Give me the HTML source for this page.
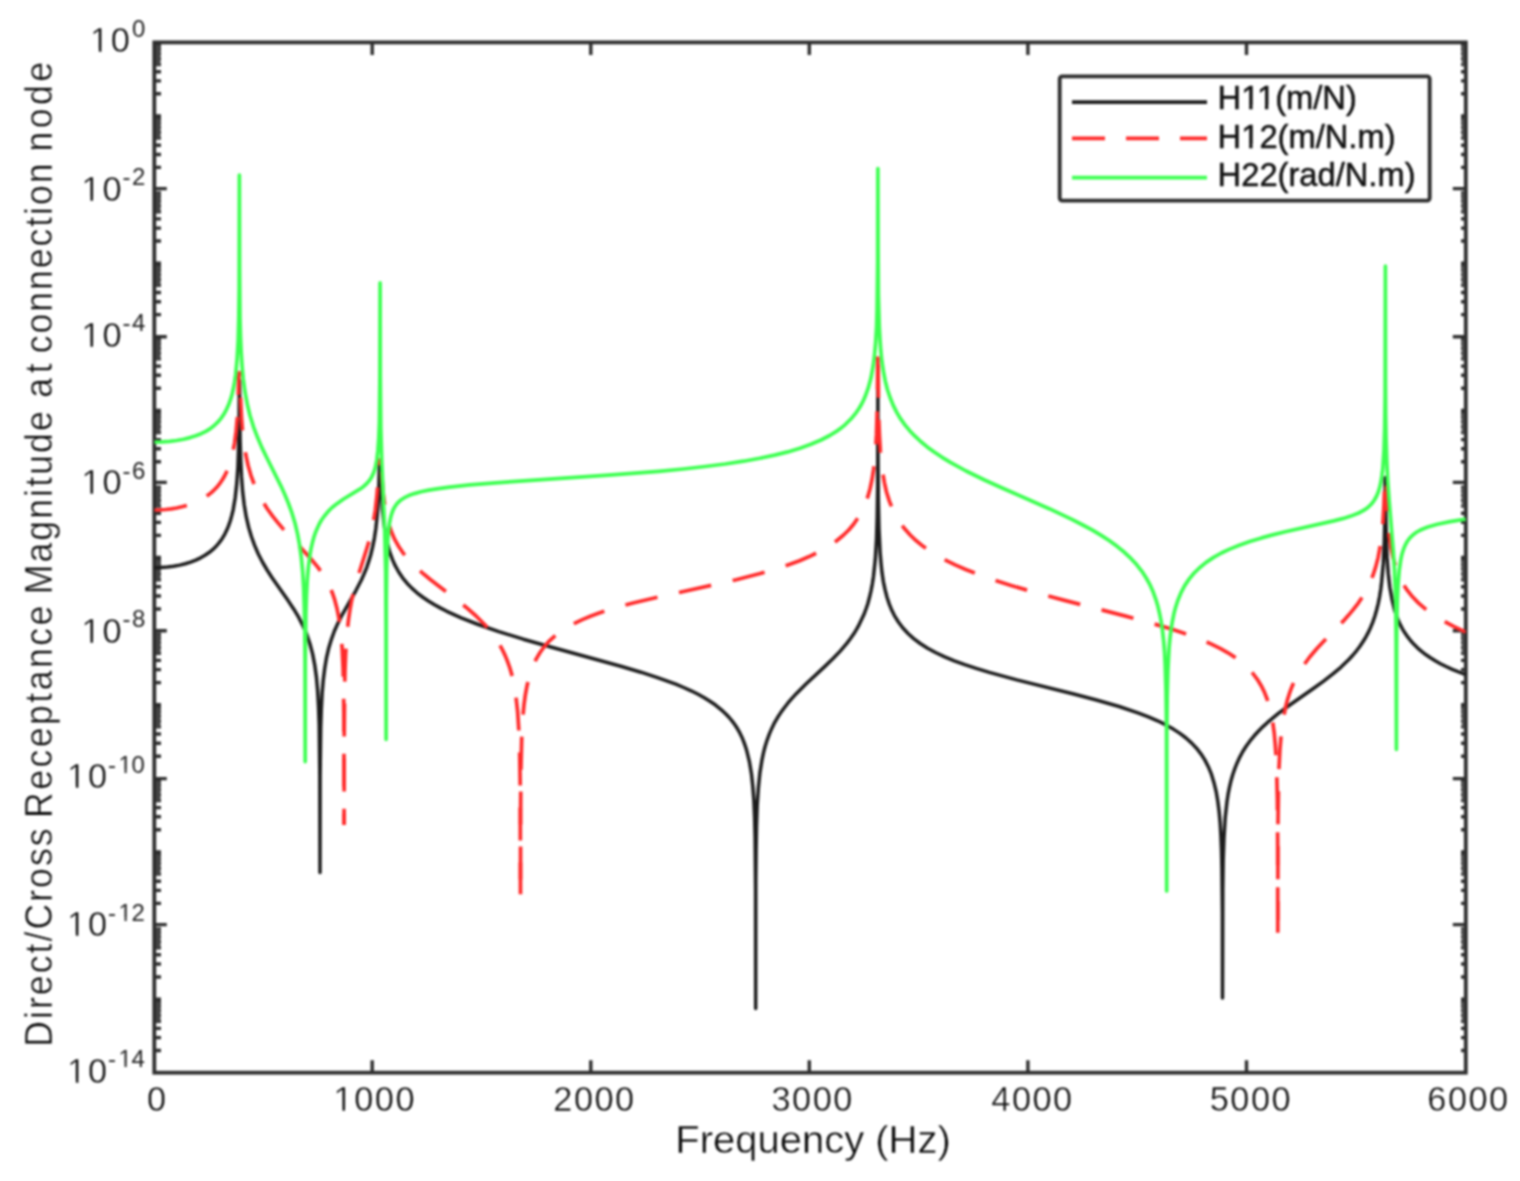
<!DOCTYPE html>
<html lang="en"><head><meta charset="utf-8"><title>Direct/Cross Receptance Magnitude at connection node</title>
<style>html,body{margin:0;padding:0;background:#fff}body{width:1520px;height:1181px;overflow:hidden}svg{display:block;filter:blur(1.0px)}text{font-family:"Liberation Sans",Arial,Helvetica,sans-serif;fill:#0a0a0a;stroke:#fff;stroke-width:.4px;paint-order:fill stroke}</style></head><body>
<svg width="1520" height="1181" viewBox="0 0 1520 1181">
<rect width="1520" height="1181" fill="#fff"/>
<defs><clipPath id="c"><rect x="154.3" y="42.4" width="1311.5" height="1030.3"/></clipPath></defs>
<path d="M372.2 1072.7 v-12.5 M372.2 42.4 v12.5 M590.8 1072.7 v-12.5 M590.8 42.4 v12.5 M809.3 1072.7 v-12.5 M809.3 42.4 v12.5 M1027.9 1072.7 v-12.5 M1027.9 42.4 v12.5 M1246.5 1072.7 v-12.5 M1246.5 42.4 v12.5 M154.3 93.8 h6.7 M1465.8 93.8 h-4.8 M154.3 80.9 h6.7 M1465.8 80.9 h-4.8 M154.3 71.7 h6.7 M1465.8 71.7 h-4.8 M154.3 64.6 h6.7 M1465.8 64.6 h-4.8 M154.3 58.7 h6.7 M1465.8 58.7 h-4.8 M154.3 53.8 h6.7 M1465.8 53.8 h-4.8 M154.3 49.5 h6.7 M1465.8 49.5 h-4.8 M154.3 45.8 h6.7 M1465.8 45.8 h-4.8 M154.3 116.0 h6.7 M1465.8 116.0 h-4.8 M154.3 167.4 h6.7 M1465.8 167.4 h-4.8 M154.3 154.5 h6.7 M1465.8 154.5 h-4.8 M154.3 145.3 h6.7 M1465.8 145.3 h-4.8 M154.3 138.1 h6.7 M1465.8 138.1 h-4.8 M154.3 132.3 h6.7 M1465.8 132.3 h-4.8 M154.3 127.4 h6.7 M1465.8 127.4 h-4.8 M154.3 123.1 h6.7 M1465.8 123.1 h-4.8 M154.3 119.4 h6.7 M1465.8 119.4 h-4.8 M154.3 188.6 h12.5 M1465.8 188.6 h-13.0 M154.3 241.0 h6.7 M1465.8 241.0 h-4.8 M154.3 228.1 h6.7 M1465.8 228.1 h-4.8 M154.3 218.9 h6.7 M1465.8 218.9 h-4.8 M154.3 211.7 h6.7 M1465.8 211.7 h-4.8 M154.3 205.9 h6.7 M1465.8 205.9 h-4.8 M154.3 201.0 h6.7 M1465.8 201.0 h-4.8 M154.3 196.7 h6.7 M1465.8 196.7 h-4.8 M154.3 193.0 h6.7 M1465.8 193.0 h-4.8 M154.3 263.2 h6.7 M1465.8 263.2 h-4.8 M154.3 314.6 h6.7 M1465.8 314.6 h-4.8 M154.3 301.7 h6.7 M1465.8 301.7 h-4.8 M154.3 292.5 h6.7 M1465.8 292.5 h-4.8 M154.3 285.3 h6.7 M1465.8 285.3 h-4.8 M154.3 279.5 h6.7 M1465.8 279.5 h-4.8 M154.3 274.6 h6.7 M1465.8 274.6 h-4.8 M154.3 270.3 h6.7 M1465.8 270.3 h-4.8 M154.3 266.5 h6.7 M1465.8 266.5 h-4.8 M154.3 336.7 h12.5 M1465.8 336.7 h-13.0 M154.3 388.2 h6.7 M1465.8 388.2 h-4.8 M154.3 375.3 h6.7 M1465.8 375.3 h-4.8 M154.3 366.1 h6.7 M1465.8 366.1 h-4.8 M154.3 358.9 h6.7 M1465.8 358.9 h-4.8 M154.3 353.1 h6.7 M1465.8 353.1 h-4.8 M154.3 348.2 h6.7 M1465.8 348.2 h-4.8 M154.3 343.9 h6.7 M1465.8 343.9 h-4.8 M154.3 340.1 h6.7 M1465.8 340.1 h-4.8 M154.3 410.4 h6.7 M1465.8 410.4 h-4.8 M154.3 461.8 h6.7 M1465.8 461.8 h-4.8 M154.3 448.8 h6.7 M1465.8 448.8 h-4.8 M154.3 439.6 h6.7 M1465.8 439.6 h-4.8 M154.3 432.5 h6.7 M1465.8 432.5 h-4.8 M154.3 426.7 h6.7 M1465.8 426.7 h-4.8 M154.3 421.8 h6.7 M1465.8 421.8 h-4.8 M154.3 417.5 h6.7 M1465.8 417.5 h-4.8 M154.3 413.7 h6.7 M1465.8 413.7 h-4.8 M154.3 482.4 h12.5 M1465.8 482.4 h-13.0 M154.3 535.4 h6.7 M1465.8 535.4 h-4.8 M154.3 522.4 h6.7 M1465.8 522.4 h-4.8 M154.3 513.2 h6.7 M1465.8 513.2 h-4.8 M154.3 506.1 h6.7 M1465.8 506.1 h-4.8 M154.3 500.3 h6.7 M1465.8 500.3 h-4.8 M154.3 495.4 h6.7 M1465.8 495.4 h-4.8 M154.3 491.1 h6.7 M1465.8 491.1 h-4.8 M154.3 487.3 h6.7 M1465.8 487.3 h-4.8 M154.3 557.5 h6.7 M1465.8 557.5 h-4.8 M154.3 609.0 h6.7 M1465.8 609.0 h-4.8 M154.3 596.0 h6.7 M1465.8 596.0 h-4.8 M154.3 586.8 h6.7 M1465.8 586.8 h-4.8 M154.3 579.7 h6.7 M1465.8 579.7 h-4.8 M154.3 573.9 h6.7 M1465.8 573.9 h-4.8 M154.3 568.9 h6.7 M1465.8 568.9 h-4.8 M154.3 564.7 h6.7 M1465.8 564.7 h-4.8 M154.3 560.9 h6.7 M1465.8 560.9 h-4.8 M154.3 630.7 h12.5 M1465.8 630.7 h-13.0 M154.3 682.6 h6.7 M1465.8 682.6 h-4.8 M154.3 669.6 h6.7 M1465.8 669.6 h-4.8 M154.3 660.4 h6.7 M1465.8 660.4 h-4.8 M154.3 653.3 h6.7 M1465.8 653.3 h-4.8 M154.3 647.5 h6.7 M1465.8 647.5 h-4.8 M154.3 642.5 h6.7 M1465.8 642.5 h-4.8 M154.3 638.3 h6.7 M1465.8 638.3 h-4.8 M154.3 634.5 h6.7 M1465.8 634.5 h-4.8 M154.3 704.7 h6.7 M1465.8 704.7 h-4.8 M154.3 756.2 h6.7 M1465.8 756.2 h-4.8 M154.3 743.2 h6.7 M1465.8 743.2 h-4.8 M154.3 734.0 h6.7 M1465.8 734.0 h-4.8 M154.3 726.9 h6.7 M1465.8 726.9 h-4.8 M154.3 721.1 h6.7 M1465.8 721.1 h-4.8 M154.3 716.1 h6.7 M1465.8 716.1 h-4.8 M154.3 711.9 h6.7 M1465.8 711.9 h-4.8 M154.3 708.1 h6.7 M1465.8 708.1 h-4.8 M154.3 778.6 h12.5 M1465.8 778.6 h-13.0 M154.3 829.8 h6.7 M1465.8 829.8 h-4.8 M154.3 816.8 h6.7 M1465.8 816.8 h-4.8 M154.3 807.6 h6.7 M1465.8 807.6 h-4.8 M154.3 800.5 h6.7 M1465.8 800.5 h-4.8 M154.3 794.7 h6.7 M1465.8 794.7 h-4.8 M154.3 789.7 h6.7 M1465.8 789.7 h-4.8 M154.3 785.5 h6.7 M1465.8 785.5 h-4.8 M154.3 781.7 h6.7 M1465.8 781.7 h-4.8 M154.3 851.9 h6.7 M1465.8 851.9 h-4.8 M154.3 903.4 h6.7 M1465.8 903.4 h-4.8 M154.3 890.4 h6.7 M1465.8 890.4 h-4.8 M154.3 881.2 h6.7 M1465.8 881.2 h-4.8 M154.3 874.1 h6.7 M1465.8 874.1 h-4.8 M154.3 868.2 h6.7 M1465.8 868.2 h-4.8 M154.3 863.3 h6.7 M1465.8 863.3 h-4.8 M154.3 859.1 h6.7 M1465.8 859.1 h-4.8 M154.3 855.3 h6.7 M1465.8 855.3 h-4.8 M154.3 924.6 h12.5 M1465.8 924.6 h-13.0 M154.3 977.0 h6.7 M1465.8 977.0 h-4.8 M154.3 964.0 h6.7 M1465.8 964.0 h-4.8 M154.3 954.8 h6.7 M1465.8 954.8 h-4.8 M154.3 947.7 h6.7 M1465.8 947.7 h-4.8 M154.3 941.8 h6.7 M1465.8 941.8 h-4.8 M154.3 936.9 h6.7 M1465.8 936.9 h-4.8 M154.3 932.6 h6.7 M1465.8 932.6 h-4.8 M154.3 928.9 h6.7 M1465.8 928.9 h-4.8 M154.3 999.1 h6.7 M1465.8 999.1 h-4.8 M154.3 1050.5 h6.7 M1465.8 1050.5 h-4.8 M154.3 1037.6 h6.7 M1465.8 1037.6 h-4.8 M154.3 1028.4 h6.7 M1465.8 1028.4 h-4.8 M154.3 1021.3 h6.7 M1465.8 1021.3 h-4.8 M154.3 1015.4 h6.7 M1465.8 1015.4 h-4.8 M154.3 1010.5 h6.7 M1465.8 1010.5 h-4.8 M154.3 1006.2 h6.7 M1465.8 1006.2 h-4.8 M154.3 1002.5 h6.7 M1465.8 1002.5 h-4.8" stroke="#2e2e2e" stroke-width="3.4" fill="none"/>
<path d="M154.3 45.0h6.2v20.4h-6.2z M154.3 118.6h6.2v20.4h-6.2z M154.3 192.2h6.2v20.4h-6.2z M154.3 265.8h6.2v20.4h-6.2z M154.3 339.4h6.2v20.4h-6.2z M154.3 413.0h6.2v20.4h-6.2z M154.3 486.6h6.2v20.4h-6.2z M154.3 560.1h6.2v20.4h-6.2z M154.3 633.7h6.2v20.4h-6.2z M154.3 707.3h6.2v20.4h-6.2z M154.3 780.9h6.2v20.4h-6.2z M154.3 854.5h6.2v20.4h-6.2z M154.3 928.1h6.2v20.4h-6.2z M154.3 1001.7h6.2v20.4h-6.2z" fill="#454545"/>
<path d="M1465.8 45.0h-4.0v20.4h4.0z M1465.8 118.6h-4.0v20.4h4.0z M1465.8 192.2h-4.0v20.4h4.0z M1465.8 265.8h-4.0v20.4h4.0z M1465.8 339.4h-4.0v20.4h4.0z M1465.8 413.0h-4.0v20.4h4.0z M1465.8 486.6h-4.0v20.4h4.0z M1465.8 560.1h-4.0v20.4h4.0z M1465.8 633.7h-4.0v20.4h4.0z M1465.8 707.3h-4.0v20.4h4.0z M1465.8 780.9h-4.0v20.4h4.0z M1465.8 854.5h-4.0v20.4h4.0z M1465.8 928.1h-4.0v20.4h4.0z M1465.8 1001.7h-4.0v20.4h4.0z" fill="#5a5a5a"/>
<rect x="154.3" y="42.4" width="1311.5" height="1030.3" fill="none" stroke="#2e2e2e" stroke-width="3.8"/>
<g clip-path="url(#c)" fill="none" stroke-linejoin="round" stroke-width="3.7">
<path stroke="#1c1c1c" stroke-width="3.5" d="M154.3 567.7 L160.9 567.6 L167.4 567.1 L173.5 566.3 L179.7 565.1 L185.3 563.7 L190.6 562.1 L195.8 560.1 L200.6 557.8 L205.0 555.3 L209.4 552.3 L212.9 549.4 L216.4 546.0 L219.4 542.4 L222.1 538.7 L224.7 534.3 L226.9 529.8 L228.6 525.6 L230.4 520.5 L231.8 515.4 L233.1 510.1 L235.2 497.7 L236.8 483.0 L237.9 467.0 L238.6 447.6 L239.1 420.2 L239.3 380.7 L239.5 380.7 L240.1 439.4 L240.7 459.6 L241.5 476.4 L242.6 491.3 L244.2 504.7 L246.2 516.7 L248.7 527.5 L251.4 536.5 L254.4 544.9 L258.3 554.0 L262.7 562.5 L267.1 570.0 L271.9 577.5 L288.1 600.6 L293.8 609.2 L298.6 617.2 L302.9 625.6 L306.9 634.8 L309.9 643.7 L312.6 653.9 L314.7 664.8 L316.4 676.9 L317.6 690.4 L318.5 706.1 L319.2 724.8 L319.8 774.3 L320.0 872.5 L320.1 776.1 L320.7 728.0 L321.3 709.6 L322.1 693.8 L323.2 680.5 L324.7 668.5 L326.4 658.2 L328.6 648.6 L331.4 639.3 L334.4 631.0 L337.5 624.1 L341.4 616.2 L355.8 590.8 L361.5 579.8 L364.1 573.9 L366.8 567.3 L368.9 560.9 L370.7 555.0 L372.7 546.7 L374.4 538.1 L375.8 528.8 L376.9 518.6 L377.9 507.4 L378.6 494.8 L379.5 463.7 L380.7 463.7 L381.1 481.9 L381.8 497.1 L382.6 510.2 L383.8 521.9 L384.9 530.6 L386.3 538.5 L388.0 545.8 L389.9 552.7 L392.6 559.9 L395.2 565.7 L398.7 572.0 L402.6 577.8 L407.0 583.2 L411.8 588.1 L417.0 592.8 L423.2 597.5 L428.4 601.0 L434.1 604.5 L440.2 607.9 L446.8 611.3 L461.2 617.8 L478.2 624.5 L498.8 631.6 L523.3 639.2 L549.9 646.8 L620.8 666.2 L640.9 672.2 L657.5 677.6 L675.8 684.2 L683.7 687.5 L691.1 690.8 L698.1 694.3 L704.3 697.7 L709.9 701.2 L715.2 704.8 L722.6 710.9 L726.1 714.2 L729.2 717.5 L732.2 721.1 L734.9 724.7 L737.5 728.8 L739.7 732.7 L741.9 737.2 L743.6 741.3 L745.3 746.1 L746.9 751.3 L749.5 762.2 L751.5 774.3 L752.8 786.5 L753.9 800.7 L754.6 817.3 L755.1 837.6 L755.6 891.2 L755.7 1008.5 L755.8 882.2 L756.1 850.2 L756.5 826.2 L757.2 805.2 L758.4 787.6 L759.9 772.9 L762.0 759.8 L763.4 753.1 L765.0 746.8 L767.2 739.8 L769.4 733.9 L772.0 727.9 L774.6 722.6 L777.7 717.3 L780.8 712.6 L784.3 707.7 L787.8 703.2 L791.7 698.6 L796.5 693.4 L805.7 684.3 L824.9 666.4 L832.8 658.8 L840.2 651.1 L846.8 643.4 L850.3 638.8 L853.8 633.8 L856.8 628.9 L859.4 624.1 L863.8 614.8 L866.0 609.0 L867.8 603.7 L869.5 597.3 L871.0 590.8 L872.4 583.6 L873.5 576.2 L875.3 559.3 L876.5 539.3 L877.2 516.5 L877.7 486.6 L877.9 373.7 L878.0 455.3 L878.3 497.9 L879.0 528.8 L880.1 552.3 L881.0 563.0 L882.0 572.6 L883.3 581.3 L885.0 589.4 L887.0 597.3 L889.2 603.9 L891.8 610.3 L894.4 615.6 L898.4 622.0 L902.7 627.8 L908.0 633.5 L913.7 638.6 L920.2 643.5 L927.6 648.2 L935.5 652.5 L944.7 656.8 L954.3 660.8 L964.8 664.6 L976.2 668.4 L989.3 672.4 L1016.8 679.9 L1073.7 694.0 L1096.4 700.0 L1119.1 706.5 L1137.9 712.8 L1148.4 716.8 L1157.6 720.8 L1165.9 724.9 L1173.3 729.1 L1179.9 733.4 L1186.0 738.0 L1191.7 743.1 L1196.5 748.2 L1200.9 753.8 L1204.8 759.9 L1208.3 766.7 L1211.4 774.2 L1213.9 782.4 L1216.1 791.3 L1217.8 801.2 L1219.2 812.3 L1220.2 823.5 L1220.9 836.2 L1221.5 850.8 L1221.9 868.2 L1222.4 913.8 L1222.5 997.9 L1222.8 889.3 L1223.2 860.0 L1224.0 837.6 L1225.2 817.9 L1227.0 801.5 L1228.1 794.2 L1229.5 787.1 L1231.0 780.7 L1232.8 774.5 L1235.0 768.1 L1237.2 762.7 L1239.8 757.1 L1242.8 751.5 L1246.3 746.0 L1249.8 741.2 L1254.2 735.8 L1258.6 731.0 L1263.0 726.6 L1267.8 722.2 L1278.7 713.2 L1290.5 704.5 L1313.7 688.3 L1323.3 681.3 L1332.9 673.9 L1340.8 667.3 L1349.1 659.3 L1353.0 655.0 L1356.5 650.8 L1359.6 646.8 L1362.6 642.3 L1365.3 638.0 L1367.9 633.2 L1370.5 627.7 L1372.7 622.3 L1374.9 616.0 L1376.6 610.0 L1378.2 603.6 L1379.6 596.6 L1380.8 589.0 L1381.7 581.2 L1383.3 563.4 L1384.3 542.2 L1384.9 515.0 L1385.2 477.7 L1385.5 477.7 L1385.8 513.7 L1386.4 540.0 L1387.1 557.9 L1388.2 573.2 L1389.8 587.2 L1392.0 599.3 L1394.5 609.7 L1396.3 615.1 L1398.0 619.7 L1400.2 624.6 L1402.4 628.8 L1405.0 633.1 L1407.7 636.9 L1410.7 640.8 L1414.2 644.6 L1417.7 648.1 L1421.6 651.4 L1426.0 654.8 L1430.4 657.8 L1435.2 660.8 L1440.4 663.7 L1446.1 666.5 L1452.2 669.3 L1465.8 674.7"/>
<path stroke="#ff2a2a" stroke-dasharray="33 22" stroke-dashoffset="0.0" d="M154.3 510.0 L160.0 509.9 L165.7 509.5 L171.3 508.8 L176.6 508.0 L181.8 506.8 L187.1 505.4 L191.9 503.7 L196.3 502.0 L200.6 499.8 L204.6 497.5 L208.1 495.1 L211.6 492.4 L214.6 489.5 L217.7 486.2 L220.3 482.8 L222.5 479.5 L224.7 475.7 L226.4 472.2 L228.2 468.1 L229.9 463.2 L232.5 453.7 L234.6 443.1 L236.1 431.4 L237.3 417.9 L238.3 397.8 L238.9 372.8 L239.4 372.7"/>
<path stroke="#ff2a2a" stroke-dasharray="33 22" stroke-dashoffset="29.7" d="M239.4 372.7 L239.9 372.7 L240.5 397.5 L241.5 417.6 L242.5 430.9 L243.9 442.8 L245.8 454.7 L248.1 465.5 L250.9 475.3 L254.4 484.8 L257.9 492.6 L262.3 500.8 L267.1 508.5 L272.8 516.4 L278.0 522.9 L284.1 530.0 L304.7 551.9 L311.2 559.2 L317.4 566.6 L322.2 573.3 L327.0 581.3 L330.9 589.4 L332.7 593.8 L334.4 598.8 L337.0 608.5 L339.3 620.1 L341.0 633.6 L342.2 649.2 L343.1 668.4 L343.6 690.7 L343.9 719.2 L344.1 825.1"/>
<path stroke="#ff2a2a" stroke-dasharray="33 22" stroke-dashoffset="21.5" d="M344.1 825.1 L344.2 735.4 L344.6 688.5 L345.0 670.6 L345.6 655.1 L346.4 641.5 L347.4 629.4 L348.5 619.7 L349.8 610.7 L351.3 602.1 L353.2 593.6 L355.4 585.1 L357.6 577.6 L365.0 554.4 L368.1 544.3 L370.7 534.4 L373.1 523.5 L375.3 510.2 L376.9 495.8 L378.2 479.6 L379.0 460.1 L380.1 460.1"/>
<path stroke="#ff2a2a" stroke-dasharray="33 22" stroke-dashoffset="42.2" d="M380.1 460.1 L381.2 460.1 L382.0 477.6 L383.1 491.9 L384.6 504.2 L386.6 515.1 L388.8 524.1 L391.7 532.5 L394.7 539.4 L398.7 546.5 L402.6 552.3 L407.0 557.8 L412.2 563.5 L418.3 569.4 L424.0 574.3 L430.6 579.7 L455.5 598.8 L466.0 607.2 L476.1 616.0 L484.8 624.8 L489.2 629.9 L493.1 634.9 L496.6 639.9 L499.7 644.8 L502.7 650.4 L505.3 655.9 L507.5 661.3 L509.7 667.5 L511.5 673.5 L513.1 680.3 L514.5 687.2 L515.7 694.6 L517.6 711.2 L518.9 731.1 L519.7 753.8 L520.2 783.4 L520.5 894.2"/>
<path stroke="#ff2a2a" stroke-dasharray="33 22" stroke-dashoffset="40.4" d="M520.5 894.2 L520.6 813.6 L520.9 770.4 L521.7 739.0 L522.3 726.5 L523.0 715.5 L524.0 704.7 L525.3 695.1 L526.9 686.4 L528.8 678.5 L530.7 672.0 L533.3 665.1 L536.4 658.6 L539.9 652.7 L543.8 647.2 L548.6 641.7 L553.9 636.8 L560.0 632.0 L566.5 627.7 L574.0 623.6 L582.3 619.6 L591.0 616.0 L599.8 612.8 L609.8 609.5 L620.8 606.3 L633.0 603.0 L658.4 597.0 L713.0 585.0 L736.2 579.7 L759.3 573.8 L779.0 568.0 L789.9 564.3 L799.6 560.7 L808.7 556.8 L817.0 552.8 L824.5 548.8 L831.5 544.4 L837.6 540.0 L843.3 535.3 L849.0 529.7 L853.8 524.0 L858.1 517.7 L861.6 511.6 L865.1 504.0 L867.8 496.7 L870.1 488.5 L872.0 479.5 L873.5 470.1 L874.8 459.6 L875.7 447.8 L876.5 434.4 L877.4 402.5 L877.9 348.5"/>
<path stroke="#ff2a2a" stroke-dasharray="33 22" stroke-dashoffset="38.7" d="M877.9 348.5 L878.5 404.4 L878.9 421.9 L879.5 436.6 L880.3 450.2 L881.3 462.1 L882.7 472.7 L884.4 482.6 L886.5 492.0 L889.2 500.6 L892.2 508.4 L895.7 515.5 L900.1 522.7 L904.9 529.1 L910.2 535.0 L916.3 540.8 L922.8 546.1 L929.8 551.0 L937.7 555.9 L946.0 560.4 L955.2 564.9 L965.7 569.5 L976.6 573.8 L988.9 578.3 L1011.1 585.5 L1037.4 593.1 L1063.6 600.1 L1125.7 616.1 L1154.5 624.1 L1168.1 628.1 L1180.3 632.1 L1191.3 635.9 L1201.3 639.8 L1211.4 644.1 L1220.1 648.4 L1228.0 652.8 L1235.4 657.6 L1242.0 662.6 L1247.7 667.8 L1252.9 673.5 L1257.3 679.3 L1261.2 685.7 L1264.3 691.9 L1266.9 698.5 L1269.2 705.9 L1271.2 713.9 L1272.8 722.8 L1274.2 732.7 L1275.2 743.8 L1276.0 755.2 L1276.6 768.1 L1277.4 800.4 L1277.7 845.3 L1277.8 932.8"/>
<path stroke="#ff2a2a" stroke-dasharray="33 22" stroke-dashoffset="1.4" d="M1277.8 932.8 L1278.0 822.2 L1278.4 792.7 L1278.9 769.7 L1279.9 749.9 L1281.3 733.1 L1283.2 718.9 L1285.8 706.1 L1287.4 699.9 L1289.2 694.2 L1290.9 689.4 L1293.1 684.0 L1295.3 679.4 L1297.9 674.4 L1300.6 669.9 L1303.6 665.3 L1309.7 657.0 L1316.7 648.7 L1324.2 640.8 L1343.0 621.4 L1348.2 615.6 L1353.0 609.9 L1358.3 603.1 L1362.6 596.6 L1366.6 589.7 L1369.6 583.5 L1373.1 575.0 L1375.7 566.9 L1378.1 557.6 L1380.0 547.4 L1381.7 535.1 L1383.0 521.6 L1383.9 505.9 L1384.6 486.7 L1385.4 486.7"/>
<path stroke="#ff2a2a" stroke-dasharray="33 22" stroke-dashoffset="7.8" d="M1385.4 486.7 L1386.2 486.7 L1386.9 506.0 L1387.8 522.2 L1389.2 535.9 L1391.0 547.9 L1393.2 558.2 L1395.9 567.5 L1398.9 575.4 L1402.4 582.5 L1404.6 586.2 L1407.2 590.2 L1412.5 596.8 L1418.6 603.1 L1425.6 609.1 L1433.9 615.1 L1443.1 620.7 L1453.6 626.4 L1465.8 632.2"/>
<path stroke="#3cff50" d="M154.3 442.1 L162.2 441.9 L169.6 441.4 L176.6 440.5 L183.6 439.2 L190.1 437.6 L195.8 435.8 L201.1 433.7 L205.9 431.3 L210.3 428.6 L214.2 425.5 L217.7 422.2 L221.2 418.1 L223.8 414.3 L226.4 409.6 L228.6 404.8 L230.7 398.9 L232.2 393.7 L233.5 388.0 L234.6 381.8 L235.6 374.9 L237.1 359.3 L238.2 340.0 L238.8 317.5 L239.2 287.7 L239.4 175.0 L239.6 269.5 L240.0 318.1 L240.5 336.4 L241.2 352.4 L242.1 366.3 L243.2 378.7 L245.0 391.9 L247.3 404.2 L250.0 415.5 L253.5 426.8 L257.5 437.3 L261.8 447.4 L266.7 457.5 L281.1 486.3 L285.0 495.0 L288.5 503.5 L292.0 513.2 L295.1 523.5 L297.5 533.6 L299.5 544.4 L301.3 557.5 L302.7 572.0 L303.7 588.7 L304.3 608.0 L304.8 630.5 L305.0 658.8 L305.2 761.6 L305.3 661.7 L305.9 613.5 L306.5 595.3 L307.3 579.8 L308.4 566.7 L309.9 555.4 L311.0 548.8 L312.4 542.8 L313.9 537.2 L315.6 532.2 L317.4 528.0 L319.5 523.5 L321.7 519.8 L324.4 516.0 L327.0 512.8 L330.0 509.5 L333.1 506.7 L336.6 503.9 L343.6 499.0 L359.8 489.2 L363.3 486.7 L366.3 484.0 L369.4 480.6 L371.7 476.9 L373.7 472.6 L375.3 467.6 L376.8 460.0 L377.9 450.4 L378.8 438.0 L379.4 422.2 L379.9 377.2 L380.1 282.9 L380.3 377.1 L380.8 427.4 L381.8 462.0 L384.7 529.8 L385.7 571.6 L386.0 626.3 L386.1 739.3 L386.3 600.7 L386.7 568.8 L387.4 547.0 L387.9 538.0 L388.6 530.2 L389.4 523.7 L390.5 518.1 L391.8 513.5 L393.3 509.5 L395.2 506.1 L397.4 503.2 L400.4 500.3 L404.4 497.7 L408.7 495.6 L414.4 493.6 L421.0 491.8 L428.8 490.1 L438.5 488.6 L449.4 487.1 L469.9 484.9 L495.7 482.8 L608.5 475.2 L658.8 471.3 L683.3 469.0 L705.1 466.5 L725.2 464.0 L743.6 461.2 L759.8 458.3 L774.6 455.1 L787.8 451.9 L800.0 448.2 L810.9 444.3 L821.0 440.0 L829.7 435.5 L837.6 430.6 L841.5 427.7 L845.0 424.8 L851.1 418.8 L856.4 412.3 L859.0 408.5 L861.2 404.8 L863.4 400.5 L865.1 396.6 L868.2 388.2 L871.0 377.8 L873.1 366.2 L874.6 354.6 L875.7 341.6 L876.6 326.5 L877.1 308.6 L877.7 262.0 L877.9 168.5 L878.1 249.9 L878.4 294.9 L879.3 326.8 L880.0 339.4 L880.8 350.8 L882.0 362.1 L883.5 371.9 L885.3 381.1 L887.4 389.5 L890.1 397.5 L893.1 405.1 L896.6 412.1 L900.5 418.7 L904.9 424.8 L909.7 430.7 L915.0 436.2 L920.7 441.5 L927.2 446.9 L934.2 452.0 L942.1 457.3 L950.4 462.3 L966.1 471.0 L984.5 480.0 L1003.3 488.5 L1049.2 508.7 L1071.9 519.4 L1082.8 525.0 L1092.5 530.2 L1101.2 535.4 L1109.5 540.8 L1117.4 546.6 L1124.4 552.3 L1130.9 558.4 L1136.6 564.6 L1141.9 571.3 L1146.2 578.0 L1150.2 585.2 L1153.2 592.1 L1155.8 599.3 L1157.9 606.3 L1159.7 614.0 L1161.3 622.2 L1162.6 631.5 L1163.7 641.4 L1164.6 652.4 L1165.2 664.8 L1166.0 691.4 L1166.5 727.5 L1166.7 890.9 L1166.8 731.8 L1167.2 696.3 L1167.9 670.4 L1169.1 647.6 L1170.0 638.0 L1171.1 629.3 L1172.4 621.3 L1173.9 613.8 L1175.5 607.6 L1177.7 600.7 L1180.8 593.2 L1184.7 585.6 L1189.1 579.1 L1193.9 573.3 L1199.6 567.7 L1206.1 562.4 L1213.6 557.4 L1221.4 553.0 L1229.7 549.1 L1239.3 545.2 L1249.8 541.5 L1261.6 537.9 L1272.6 534.9 L1285.3 531.8 L1333.8 520.9 L1343.4 518.4 L1350.8 516.1 L1358.7 513.0 L1362.2 511.2 L1365.3 509.3 L1367.9 507.4 L1370.5 505.0 L1372.7 502.5 L1374.4 500.0 L1376.6 496.0 L1378.2 492.3 L1379.7 487.4 L1380.9 482.0 L1381.9 475.6 L1382.8 468.5 L1384.0 450.3 L1384.7 427.8 L1385.1 396.2 L1385.4 266.2 L1385.5 384.2 L1385.7 414.9 L1386.1 439.0 L1386.8 461.4 L1387.8 481.6 L1389.2 500.8 L1393.3 551.4 L1394.4 569.2 L1395.2 588.1 L1395.8 612.5 L1396.1 642.2 L1396.4 749.3 L1396.6 648.4 L1396.8 621.6 L1397.3 600.9 L1398.1 584.1 L1399.2 570.8 L1400.7 560.2 L1401.6 555.8 L1402.7 551.8 L1404.0 548.0 L1405.5 544.6 L1407.2 541.5 L1409.0 539.0 L1411.2 536.6 L1413.8 534.2 L1416.8 532.0 L1419.9 530.3 L1423.4 528.7 L1427.8 527.0 L1437.4 524.2 L1450.1 521.6 L1465.8 519.2"/>
</g>
<text x="146.9" y="1111.2" font-size="34.3">0</text>
<text x="333.6 354.2 374.8 395.4" y="1111.2" font-size="34.3">1000</text><path fill="#fff" d="M335.50 1107.89h6.98v4.91h-6.98z M345.01 1107.89h6.75v4.91h-6.75z"/>
<text x="553.3 573.9 594.5 615.1" y="1111.2" font-size="34.3">2000</text>
<text x="771.5 792.1 812.7 833.3" y="1111.2" font-size="34.3">3000</text>
<text x="991.3 1011.9 1032.5 1053.1" y="1111.2" font-size="34.3">4000</text>
<text x="1209.7 1230.3 1250.9 1271.5" y="1111.2" font-size="34.3">5000</text>
<text x="1427.3 1447.9 1468.5 1489.1" y="1111.2" font-size="34.3">6000</text>
<text x="90.0 110.7" y="52.1" font-size="34.3">10</text><path fill="#fff" d="M91.90 48.79h6.98v4.91h-6.98z M101.41 48.79h6.75v4.91h-6.75z"/>
<text x="132.0" y="36.5" font-size="24" style="stroke:none;fill:#222">0</text>
<text x="81.6 102.6" y="200.8" font-size="34.3">10</text><path fill="#fff" d="M83.50 197.49h6.98v4.91h-6.98z M93.01 197.49h6.75v4.91h-6.75z"/>
<text x="122.5 131.9" y="185.2" font-size="24" style="stroke:none;fill:#222">-2</text>
<text x="81.6 102.6" y="346.8" font-size="34.3">10</text><path fill="#fff" d="M83.50 343.49h6.98v4.91h-6.98z M93.01 343.49h6.75v4.91h-6.75z"/>
<text x="122.5 131.9" y="331.2" font-size="24" style="stroke:none;fill:#222">-4</text>
<text x="81.6 102.6" y="494.2" font-size="34.3">10</text><path fill="#fff" d="M83.50 490.89h6.98v4.91h-6.98z M93.01 490.89h6.75v4.91h-6.75z"/>
<text x="122.5 131.9" y="478.6" font-size="24" style="stroke:none;fill:#222">-6</text>
<text x="81.6 102.6" y="642.8" font-size="34.3">10</text><path fill="#fff" d="M83.50 639.49h6.98v4.91h-6.98z M93.01 639.49h6.75v4.91h-6.75z"/>
<text x="122.5 131.9" y="627.2" font-size="24" style="stroke:none;fill:#222">-8</text>
<text x="67.0 88.0" y="788.4" font-size="34.3">10</text><path fill="#fff" d="M68.90 785.09h6.98v4.91h-6.98z M78.41 785.09h6.75v4.91h-6.75z"/>
<text x="107.9 118.5 131.4" y="772.8" font-size="24" style="stroke:none;fill:#222">-10</text><path fill="#fff" d="M119.68 770.01h4.86v4.39h-4.86z M126.66 770.01h4.70v4.39h-4.70z"/>
<text x="67.0 88.0" y="936.2" font-size="34.3">10</text><path fill="#fff" d="M68.90 932.89h6.98v4.91h-6.98z M78.41 932.89h6.75v4.91h-6.75z"/>
<text x="107.9 118.5 131.4" y="920.6" font-size="24" style="stroke:none;fill:#222">-12</text><path fill="#fff" d="M119.68 917.81h4.86v4.39h-4.86z M126.66 917.81h4.70v4.39h-4.70z"/>
<text x="67.0 88.0" y="1082.8" font-size="34.3">10</text><path fill="#fff" d="M68.90 1079.49h6.98v4.91h-6.98z M78.41 1079.49h6.75v4.91h-6.75z"/>
<text x="107.9 118.5 131.4" y="1067.2" font-size="24" style="stroke:none;fill:#222">-14</text><path fill="#fff" d="M119.68 1064.41h4.86v4.39h-4.86z M126.66 1064.41h4.70v4.39h-4.70z"/>
<text x="675.3" y="1152.9" font-size="38" textLength="275.5" lengthAdjust="spacingAndGlyphs">Frequency (Hz)</text>
<g transform="translate(52.2 1044.5) rotate(-90) scale(1 1.09)" font-size="35.5">
<text x="-2.3" y="0" textLength="218.3" lengthAdjust="spacing">Direct/Cross</text>
<text x="226.6" y="0" textLength="212.2" lengthAdjust="spacing">Receptance</text>
<text x="450.2" y="0" textLength="183.0" lengthAdjust="spacing">Magnitude</text>
<text x="646.7" y="0" textLength="34.5" lengthAdjust="spacing">at</text>
<text x="691.2" y="0" textLength="189.7" lengthAdjust="spacing">connection</text>
<text x="893.1" y="0" textLength="89.5" lengthAdjust="spacing">node</text>
</g>
<rect x="1059.7" y="76.3" width="370" height="124.3" rx="2.5" fill="#fff" stroke="#2c2c2c" stroke-width="3.8"/>
<g fill="none" stroke-width="3.7">
<path stroke="#1c1c1c" d="M1072 102.1H1207"/>
<path stroke="#ff2a2a" stroke-dasharray="33 21" d="M1072 138.4H1207"/>
<path stroke="#3cff50" d="M1072 177.6H1207"/>
</g>
<text x="1217.6" y="109.0" font-size="32.7" style="fill:#111;stroke:#111;stroke-width:.5px">H11(m/N)</text><path fill="#fff" d="M1242.98 105.31h6.19v5.29h-6.19z M1252.56 105.31h5.97v5.29h-5.97z M1258.73 105.31h6.19v5.29h-6.19z M1268.31 105.31h5.97v5.29h-5.97z"/>
<text x="1217.6" y="147.7" font-size="32.7" style="fill:#111;stroke:#111;stroke-width:.5px">H12(m/N.m)</text><path fill="#fff" d="M1242.98 144.01h6.19v5.29h-6.19z M1252.56 144.01h5.97v5.29h-5.97z"/>
<text x="1217.6" y="185.6" font-size="32.7" style="fill:#111;stroke:#111;stroke-width:.5px">H22(rad/N.m)</text>
</svg></body></html>
